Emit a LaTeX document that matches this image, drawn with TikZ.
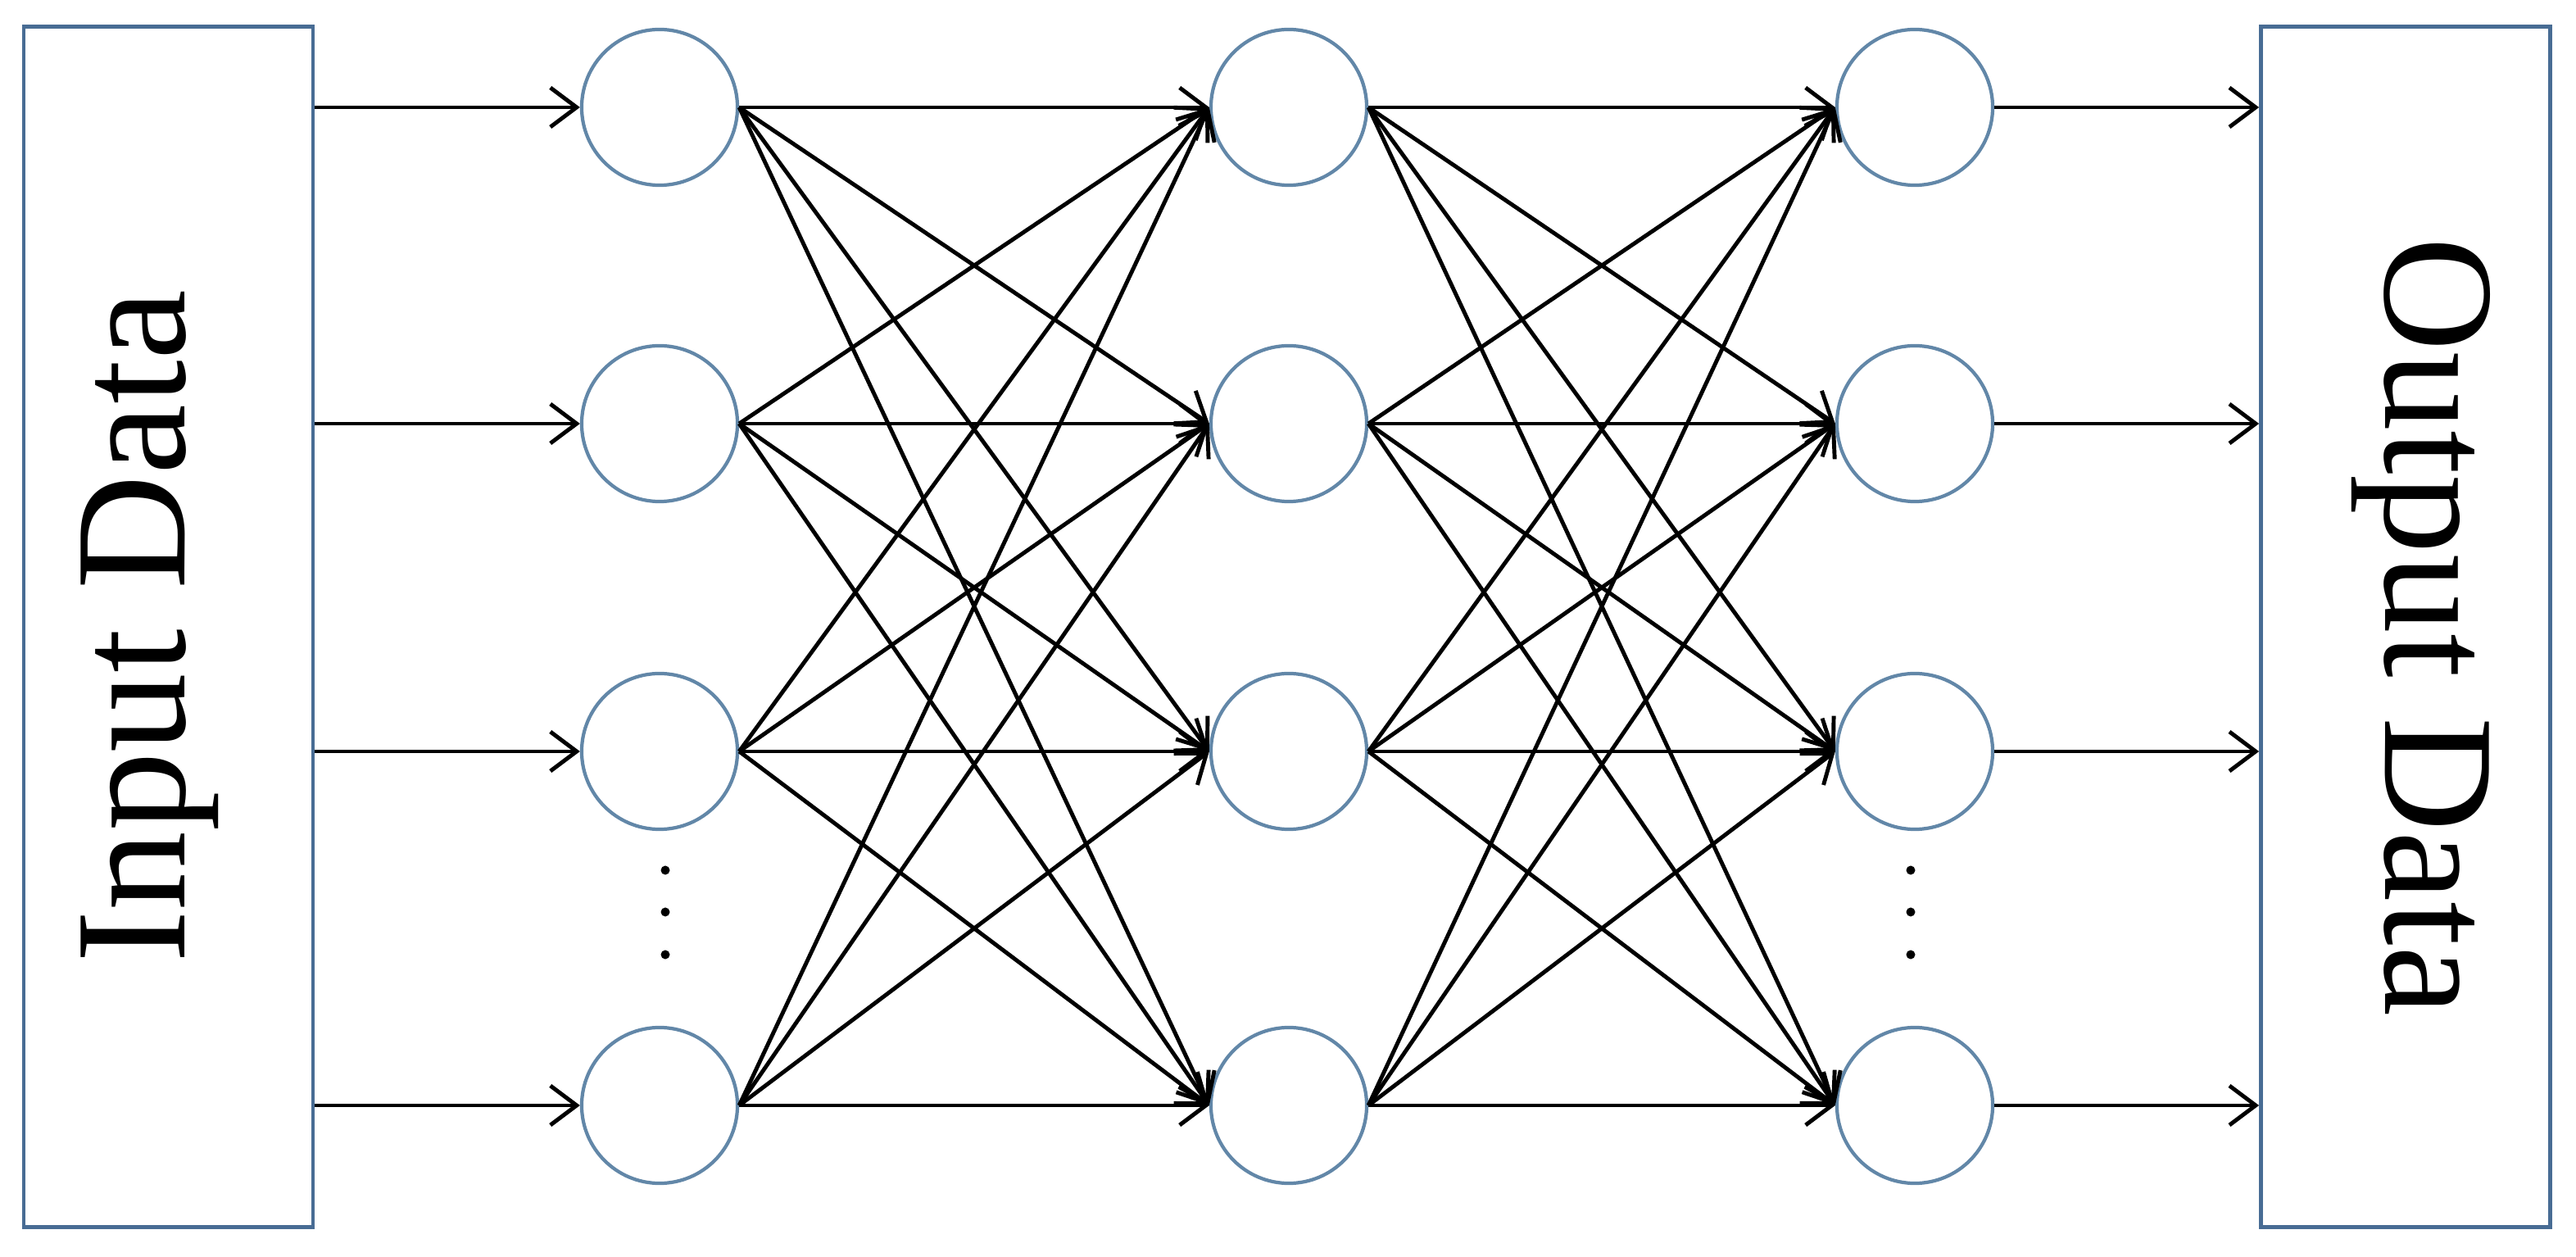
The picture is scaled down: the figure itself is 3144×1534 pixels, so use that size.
\documentclass[tikz,border=0pt]{standalone}
\usepackage{fontspec}
\setmainfont{Liberation Serif}
\usetikzlibrary{arrows.meta}
\definecolor{circ}{RGB}{98,135,168}
\definecolor{boxc}{RGB}{72,108,148}
\begin{document}
\begin{tikzpicture}[x=0.01cm,y=-0.01cm,
  neuron/.style={circle,draw=circ,line width=1.2pt,minimum size=1.9cm,inner sep=0pt},
  iobox/.style={draw=boxc,line width=1.3pt,minimum width=3.53cm,minimum height=14.64cm,inner sep=0pt},
  iotext/.style={font=\fontsize{55}{60}\selectfont,inner sep=0pt},
  dotsym/.style={circle,fill=black,minimum size=0.11cm,inner sep=0pt},
  conn/.style={line width=1.4pt,-{Straight Barb[length=0.32cm,width=0.48cm,line width=1.4pt]}}]
\useasboundingbox (0,0) rectangle (3144,1534);
\node[iobox] (in) at (205.5,765) {};
\node[iotext,rotate=90] (intext) at (183,765) {Input Data};
\node[iobox] (out) at (2936,765) {};
\node[iotext,rotate=-90] (outtext) at (2955,765) {Output Data};
\foreach \r/\y in {1/131,2/517,3/917,4/1349}{
  \node[neuron] (a\r) at (805,\y) {};
  \node[neuron] (b\r) at (1573,\y) {};
  \node[neuron] (c\r) at (2337,\y) {};
}
\foreach \k/\y in {1/1062,2/1113,3/1165}{
  \node[dotsym] (da\k) at (812,\y) {};
  \node[dotsym] (dc\k) at (2332,\y) {};
}
\foreach \r in {1,...,4}{
  \draw[conn] (in.east |- a\r.west) -- (a\r.west);
  \draw[conn] (c\r.east) -- (out.west |- c\r.east);
  \foreach \s in {1,...,4}{
    \draw[conn] (a\r.east) -- (b\s.west);
    \draw[conn] (b\r.east) -- (c\s.west);
  }
}
\end{tikzpicture}
\end{document}
